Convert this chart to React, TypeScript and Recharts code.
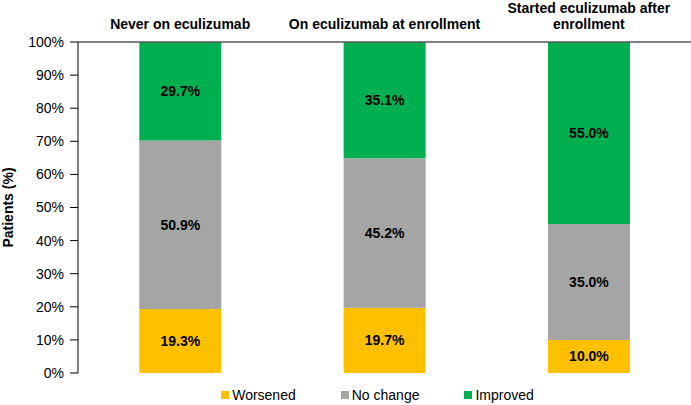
import { BarChart, Bar, XAxis, YAxis, Legend, LabelList, Label } from 'recharts';

const categories = ['Never on eculizumab', 'On eculizumab at enrollment', 'Started eculizumab after\nenrollment'];
const worsened = [19.3, 19.7, 10.0];
const noChange = [50.9, 45.2, 35.0];
const improved = [29.7, 35.1, 55.0];
const yTicks = [0, 0.1, 0.2, 0.3, 0.4, 0.5, 0.6, 0.7, 0.8, 0.9, 1];

const series = [
  { key: 'worsened', name: 'Worsened', color: '#FFC000' },
  { key: 'noChange', name: 'No change', color: '#A5A5A5' },
  { key: 'improved', name: 'Improved', color: '#00B050' },
];

const data = categories.map((name, i) => ({
  name,
  worsened: worsened[i],
  noChange: noChange[i],
  improved: improved[i],
}));

const FONT = '"Liberation Sans", Arial, sans-serif';

function HeaderTick({ x, y, payload }: any) {
  const lines = String(payload.value).split('\n');
  return (
    <text x={x} textAnchor="middle" fontFamily={FONT} fontSize={14} fontWeight="bold" fill="#000">
      {lines.map((line, i) => (
        <tspan key={i} x={x} y={y - (lines.length - 1 - i) * 16}>
          {line}
        </tspan>
      ))}
    </text>
  );
}

function LegendContent() {
  return (
    <div
      style={{
        display: 'flex',
        justifyContent: 'center',
        alignItems: 'center',
        paddingLeft: 64,
        height: 32,
        paddingTop: 12,
        boxSizing: 'border-box',
        fontFamily: FONT,
        fontSize: 14,
        color: '#000',
      }}
    >
      {series.map((s, i) => (
        <div key={s.key} style={{ display: 'flex', alignItems: 'center', marginLeft: i === 0 ? 0 : 45 }}>
          <span style={{ width: 8, height: 8, background: s.color, display: 'inline-block', marginRight: 3 }} />
          <span>{s.name}</span>
        </div>
      ))}
    </div>
  );
}

export default function App() {
  return (
    <div style={{ position: 'absolute', left: 0, top: 0, background: '#fff' }}>
      <BarChart
        width={691}
        height={405}
        data={data}
        stackOffset="expand"
        barCategoryGap="30%"
        margin={{ top: 0, right: 0, bottom: 0, left: 0 }}
      >
        <XAxis
          dataKey="name"
          orientation="top"
          height={42}
          tickLine={false}
          tickSize={0}
          tickMargin={13}
          axisLine={{ stroke: '#595959', strokeWidth: 1.5 }}
          tick={<HeaderTick />}
          interval={0}
        />
        <YAxis
          width={78}
          domain={[0, 1]}
          ticks={yTicks}
          tickFormatter={(v: number) => `${Math.round(v * 100)}%`}
          tick={{ fontFamily: FONT, fontSize: 14, fill: '#000' }}
          tickSize={8}
          tickMargin={6}
          axisLine={{ stroke: '#000' }}
          tickLine={{ stroke: '#000' }}
        >
          <Label
            content={({ viewBox }: any) => (
              <text
                x={13}
                y={viewBox.y + viewBox.height / 2}
                transform={`rotate(-90 13 ${viewBox.y + viewBox.height / 2})`}
                textAnchor="middle"
                fontFamily={FONT}
                fontSize={14}
                fontWeight="bold"
                fill="#000"
              >
                Patients (%)
              </text>
            )}
          />
        </YAxis>
        <Legend verticalAlign="bottom" content={<LegendContent />} />
        {series.map((s) => (
          <Bar key={s.key} dataKey={s.key} name={s.name} stackId="a" fill={s.color} isAnimationActive={false}>
            <LabelList
              dataKey={s.key}
              position="center"
              formatter={(v: any) => `${Number(v).toFixed(1)}%`}
              style={{ fontFamily: FONT, fontSize: 14, fontWeight: 'bold', fill: '#000' }}
            />
          </Bar>
        ))}
      </BarChart>
    </div>
  );
}
